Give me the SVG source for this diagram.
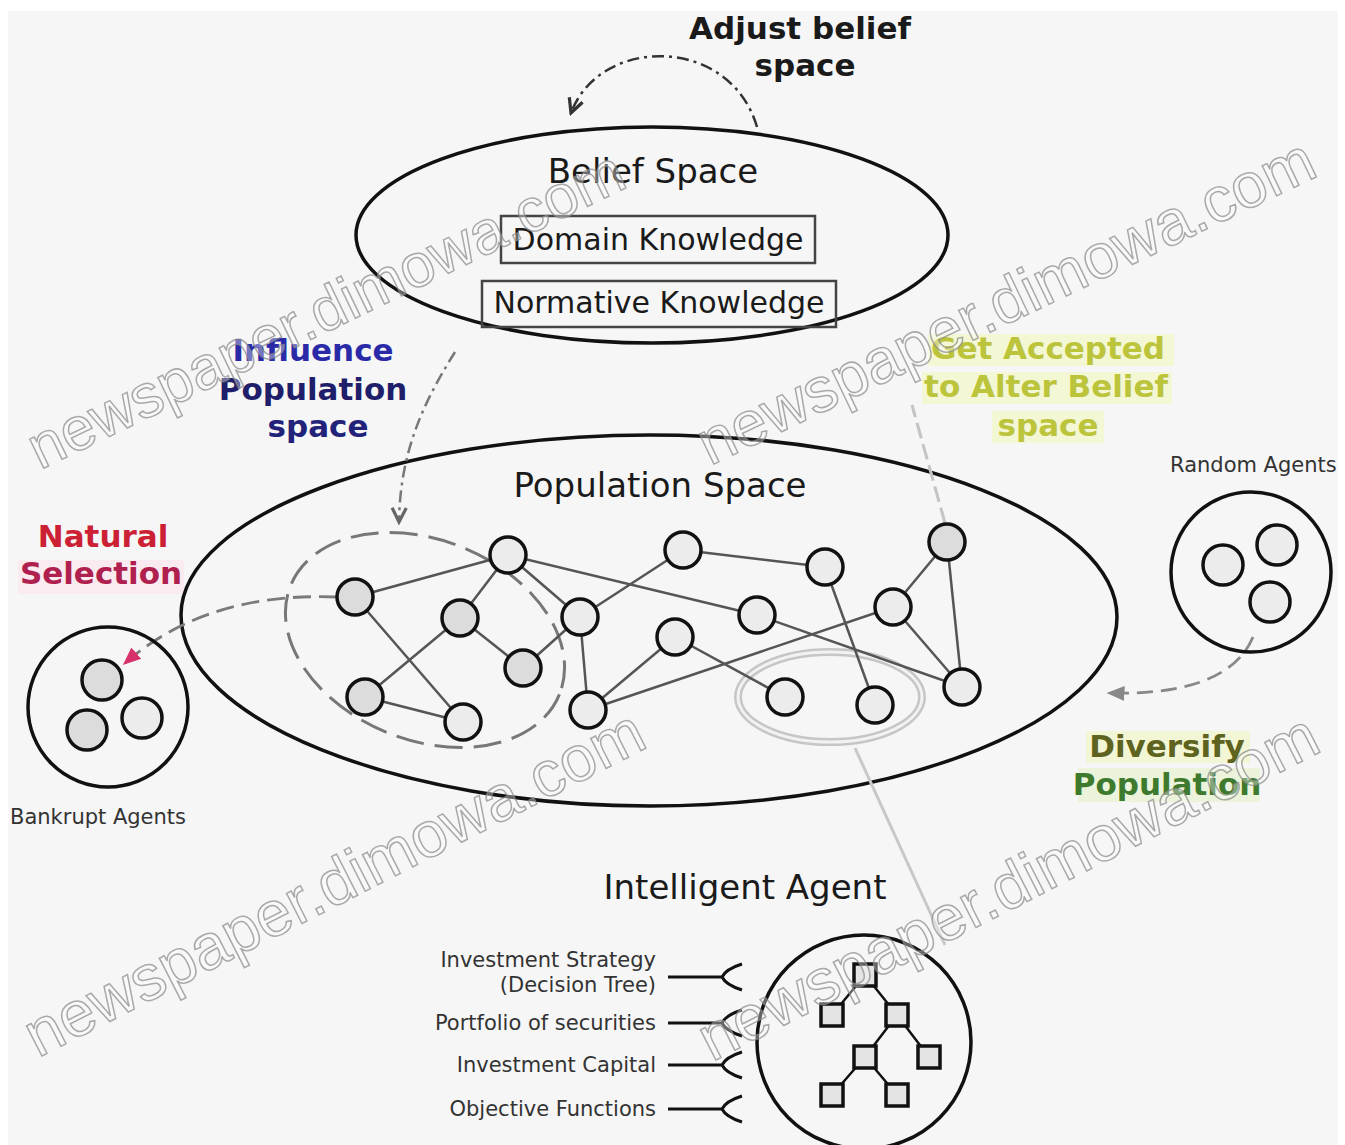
<svg xmlns="http://www.w3.org/2000/svg" width="1345" height="1145" viewBox="0 0 1345 1145">
<defs>
<style>
.big{font-family:"DejaVu Sans",sans-serif;font-size:34px;fill:#1a1a1a;text-anchor:middle}
.kn{font-family:"DejaVu Sans",sans-serif;font-size:30px;fill:#1a1a1a;text-anchor:middle}
.bold{font-family:"DejaVu Sans",sans-serif;font-size:31px;font-weight:bold;text-anchor:middle}
.small{font-family:"DejaVu Sans",sans-serif;font-size:21px;fill:#333}
.lbl{font-family:"DejaVu Sans",sans-serif;font-size:21px;fill:#333;text-anchor:end}
.outline{fill:none;stroke:#111;stroke-width:3.5}
.node{stroke:#111;stroke-width:3.5;fill:#ececec}
.node.g{fill:#dcdcdc}
.edge{stroke:#555;stroke-width:2.5;fill:none}
.sq{fill:#e4e4e4;stroke:#111;stroke-width:3.5}
.tree{stroke:#111;stroke-width:2.5;fill:none}
.fork{stroke:#111;stroke-width:3;fill:none}
.wm{font-family:"Liberation Sans",sans-serif;fill:#ffffff;fill-opacity:0.35;stroke:#888;stroke-opacity:0.7;stroke-width:1.5}
</style>
<marker id="openArrow" viewBox="0 0 14 14" refX="12" refY="7" markerWidth="18" markerHeight="18" markerUnits="userSpaceOnUse" orient="auto">
<path d="M1,1.5 L12,7 L1,12.5" fill="none" stroke="#333" stroke-width="2.5"/>
</marker>
<marker id="openArrowGray" viewBox="0 0 14 14" refX="12" refY="7" markerWidth="18" markerHeight="18" markerUnits="userSpaceOnUse" orient="auto">
<path d="M1,1.5 L12,7 L1,12.5" fill="none" stroke="#666" stroke-width="2.5"/>
</marker>
<marker id="pinkArrow" viewBox="0 0 12 12" refX="11" refY="6" markerWidth="18" markerHeight="18" markerUnits="userSpaceOnUse" orient="auto">
<path d="M0,1 L12,6 L0,11 Z" fill="#d8306a"/>
</marker>
<marker id="grayArrow" viewBox="0 0 12 12" refX="11" refY="6" markerWidth="18" markerHeight="18" markerUnits="userSpaceOnUse" orient="auto">
<path d="M0,1 L12,6 L0,11 Z" fill="#888"/>
</marker>
</defs>

<rect x="0" y="0" width="1345" height="1145" fill="#ffffff"/>
<rect x="8" y="11" width="1330" height="1134" fill="#f6f6f6"/>

<!-- label highlights -->
<g id="highlights">
<rect x="928" y="334" width="246" height="32" fill="#f3f7cc" opacity="0.8"/>
<rect x="922" y="372" width="250" height="32" fill="#f3f7cc" opacity="0.8"/>
<rect x="992" y="411" width="112" height="32" fill="#f3f7cc" opacity="0.8"/>
<rect x="1086" y="731" width="164" height="32" fill="#f3f6cc" opacity="0.8"/>
<rect x="1078" y="768" width="182" height="34" fill="#e8f4d4" opacity="0.8"/>
<rect x="18" y="560" width="166" height="34" fill="#fbe4ec" opacity="0.6"/>
</g>

<!-- Belief Space -->
<g id="belief-space">
<ellipse cx="652" cy="235" rx="296" ry="108" class="outline"/>
<text x="653" y="183" class="big">Belief Space</text>
</g>
<g id="domain-knowledge">
<rect x="501" y="216" width="314" height="47" fill="none" stroke="#444" stroke-width="2.5"/>
<text x="658" y="250" class="kn" font-size="31">Domain Knowledge</text>
</g>
<g id="normative-knowledge">
<rect x="482" y="281" width="354" height="46" fill="none" stroke="#444" stroke-width="2.5"/>
<text x="659" y="313" class="kn" font-size="31">Normative Knowledge</text>
</g>

<!-- Population Space -->
<g id="population-space">
<path d="M181 615 C181 515 400 435 650 435 C910 435 1117 520 1117 617 C1117 720 900 806 650 806 C400 806 181 720 181 615 Z" class="outline"/>
<text x="660" y="497" class="big">Population Space</text>
<ellipse cx="425" cy="640" rx="145" ry="100" transform="rotate(22 425 640)" fill="none" stroke="#777" stroke-width="3" stroke-dasharray="28,11"/>
<ellipse cx="830" cy="697" rx="92" ry="45" fill="none" stroke="#c6c6c6" stroke-width="8"/>
<ellipse cx="830" cy="697" rx="92" ry="45" fill="none" stroke="#f2f2f2" stroke-width="3"/>
</g>

<!-- connectors -->
<g id="connectors">
<g id="pop-edges">
<line x1="355" y1="597" x2="508" y2="555" class="edge"/>
<line x1="508" y1="555" x2="460" y2="618" class="edge"/>
<line x1="508" y1="555" x2="580" y2="617" class="edge"/>
<line x1="508" y1="555" x2="757" y2="615" class="edge"/>
<line x1="355" y1="597" x2="463" y2="722" class="edge"/>
<line x1="460" y1="618" x2="365" y2="697" class="edge"/>
<line x1="460" y1="618" x2="523" y2="668" class="edge"/>
<line x1="365" y1="697" x2="463" y2="722" class="edge"/>
<line x1="580" y1="617" x2="523" y2="668" class="edge"/>
<line x1="580" y1="617" x2="588" y2="710" class="edge"/>
<line x1="580" y1="617" x2="683" y2="550" class="edge"/>
<line x1="588" y1="710" x2="675" y2="637" class="edge"/>
<line x1="588" y1="710" x2="893" y2="607" class="edge"/>
<line x1="683" y1="550" x2="825" y2="567" class="edge"/>
<line x1="825" y1="567" x2="875" y2="705" class="edge"/>
<line x1="757" y1="615" x2="962" y2="687" class="edge"/>
<line x1="675" y1="637" x2="785" y2="697" class="edge"/>
<line x1="893" y1="607" x2="947" y2="542" class="edge"/>
<line x1="893" y1="607" x2="962" y2="687" class="edge"/>
<line x1="947" y1="542" x2="962" y2="687" class="edge"/>
</g>
<path id="adjust-arrow" d="M757 127 C730 35 600 35 571 113" fill="none" stroke="#333" stroke-width="2.5" stroke-dasharray="12,5,3,5" marker-end="url(#openArrow)"/>
<path id="influence-arrow" d="M455 352 C425 400 400 450 399 522" fill="none" stroke="#777" stroke-width="2.5" stroke-dasharray="12,5,3,5" marker-end="url(#openArrowGray)"/>
<path id="accept-arrow" d="M945 523 L912 405" fill="none" stroke="#c4c4c4" stroke-width="3" stroke-dasharray="16,6"/>
<path id="selection-arrow" d="M337 597 C260 594 185 610 124 664" fill="none" stroke="#7a7a7a" stroke-width="2.8" stroke-dasharray="18,8" marker-end="url(#pinkArrow)"/>
<path id="diversify-arrow" d="M1253 637 C1235 680 1180 695 1108 693" fill="none" stroke="#888" stroke-width="2.8" stroke-dasharray="16,8" marker-end="url(#grayArrow)"/>
<line id="agent-link" x1="855" y1="748" x2="945" y2="945" stroke="#c8c8c8" stroke-width="3"/>
<g id="forks">
<path d="M668 977 H722 M742 964 Q726 969 722 977 Q726 985 742 990" class="fork"/>
<path d="M668 1023 H722 M742 1010 Q726 1015 722 1023 Q726 1031 742 1036" class="fork"/>
<path d="M668 1065 H722 M742 1052 Q726 1057 722 1065 Q726 1073 742 1078" class="fork"/>
<path d="M668 1109 H722 M742 1096 Q726 1101 722 1109 Q726 1117 742 1122" class="fork"/>
</g>
</g>

<!-- population nodes -->
<g id="n1"><circle cx="355" cy="597" r="18" class="node g"/></g>
<g id="n2"><circle cx="508" cy="555" r="18" class="node"/></g>
<g id="n3"><circle cx="460" cy="618" r="18" class="node g"/></g>
<g id="n4"><circle cx="580" cy="617" r="18" class="node"/></g>
<g id="n5"><circle cx="523" cy="668" r="18" class="node g"/></g>
<g id="n6"><circle cx="365" cy="697" r="18" class="node g"/></g>
<g id="n7"><circle cx="463" cy="722" r="18" class="node"/></g>
<g id="n8"><circle cx="588" cy="710" r="18" class="node"/></g>
<g id="n9"><circle cx="683" cy="550" r="18" class="node"/></g>
<g id="n10"><circle cx="675" cy="637" r="18" class="node"/></g>
<g id="n11"><circle cx="757" cy="615" r="18" class="node"/></g>
<g id="n12"><circle cx="825" cy="567" r="18" class="node"/></g>
<g id="n13"><circle cx="893" cy="607" r="18" class="node"/></g>
<g id="n14"><circle cx="947" cy="542" r="18" class="node g"/></g>
<g id="n15"><circle cx="785" cy="697" r="18" class="node"/></g>
<g id="n16"><circle cx="875" cy="705" r="18" class="node"/></g>
<g id="n17"><circle cx="962" cy="687" r="18" class="node"/></g>

<!-- Bankrupt Agents -->
<g id="bankrupt-agents">
<circle cx="108" cy="707" r="80" class="outline"/>
<circle cx="102" cy="680" r="20" class="node g"/>
<circle cx="87" cy="730" r="20" class="node g"/>
<circle cx="142" cy="718" r="20" class="node"/>
<text x="10" y="824" class="small">Bankrupt Agents</text>
</g>

<!-- Random Agents -->
<g id="random-agents">
<circle cx="1251" cy="572" r="80" class="outline"/>
<circle cx="1223" cy="565" r="20" class="node"/>
<circle cx="1277" cy="545" r="20" class="node"/>
<circle cx="1270" cy="602" r="20" class="node"/>
<text x="1170" y="472" class="small">Random Agents</text>
</g>

<!-- Intelligent Agent -->
<g id="intelligent-agent">
<text x="745" y="899" class="big">Intelligent Agent</text>
<circle cx="864" cy="1042" r="107" class="outline"/>
<path d="M865 975 L832 1015 M865 975 L897 1015 M897 1015 L865 1057 M897 1015 L929 1057 M865 1057 L832 1095 M865 1057 L897 1095" class="tree"/>
<rect x="854" y="964" width="22" height="22" class="sq"/>
<rect x="821" y="1004" width="22" height="22" class="sq"/>
<rect x="886" y="1004" width="22" height="22" class="sq"/>
<rect x="854" y="1046" width="22" height="22" class="sq"/>
<rect x="918" y="1046" width="22" height="22" class="sq"/>
<rect x="821" y="1084" width="22" height="22" class="sq"/>
<rect x="886" y="1084" width="22" height="22" class="sq"/>
</g>
<g id="agent-attributes">
<text x="656" y="967" class="lbl">Investment Strategy</text>
<text x="656" y="992" class="lbl">(Decision Tree)</text>
<text x="656" y="1030" class="lbl">Portfolio of securities</text>
<text x="656" y="1072" class="lbl">Investment Capital</text>
<text x="656" y="1116" class="lbl">Objective Functions</text>
</g>

<!-- labels -->
<g id="label-adjust">
<text x="800" y="39" class="bold" fill="#1a1a1a">Adjust belief</text>
<text x="805" y="76" class="bold" fill="#1a1a1a">space</text>
</g>
<g id="label-influence">
<text x="313" y="361" class="bold" fill="#2a2aa8">Influence</text>
<text x="313" y="400" class="bold" fill="#1e1e6a">Population</text>
<text x="318" y="437" class="bold" fill="#22227a">space</text>
</g>
<g id="label-accepted">
<text x="1048" y="359" class="bold" fill="#bcc43c">Get Accepted</text>
<text x="1046" y="397" class="bold" fill="#bcc43c">to Alter Belief</text>
<text x="1048" y="436" class="bold" fill="#bcc43c">space</text>
</g>
<g id="label-natural">
<text x="103" y="547" class="bold" fill="#cc2035">Natural</text>
<text x="101" y="584" class="bold" fill="#b0204e">Selection</text>
</g>
<g id="label-diversify">
<text x="1167" y="757" class="bold" fill="#5e6320">Diversify</text>
<text x="1167" y="795" class="bold" fill="#3e7a2e">Population</text>
</g>

<!-- watermark -->
<g id="watermark">
<text x="40" y="470" class="wm" font-size="61" transform="rotate(-25.7 40 470)">newspaper.dimowa.com</text>
<text x="710" y="466" class="wm" font-size="63" transform="rotate(-25.5 710 466)">newspaper.dimowa.com</text>
<text x="38" y="1058" class="wm" font-size="64" transform="rotate(-27 38 1058)">newspaper.dimowa.com</text>
<text x="712" y="1062" class="wm" font-size="64" transform="rotate(-27 712 1062)">newspaper.dimowa.com</text>
</g>
</svg>
